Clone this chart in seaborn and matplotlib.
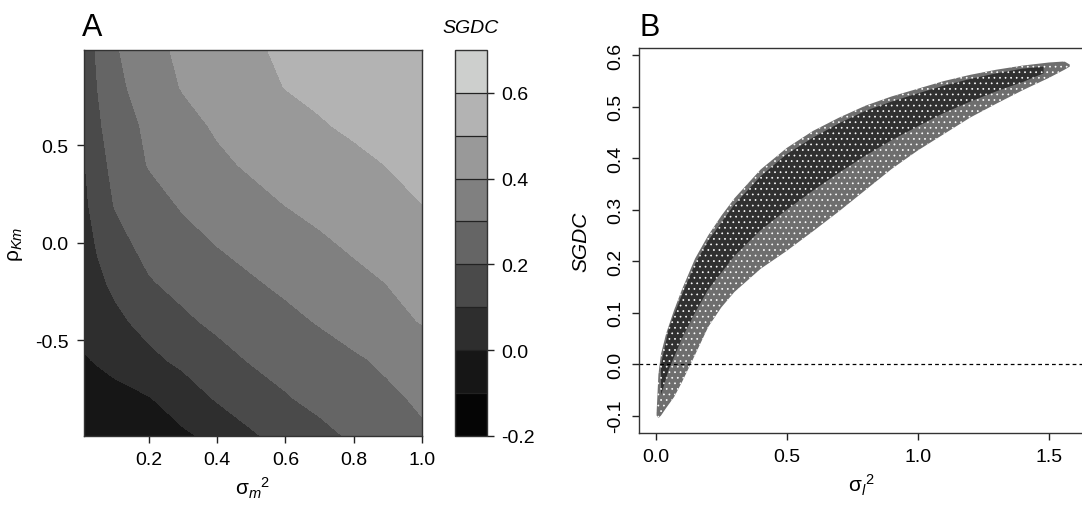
import numpy as np
import pandas as pd
import matplotlib
matplotlib.use("Agg")
import matplotlib.pyplot as plt
import seaborn as sns
from matplotlib.colors import ListedColormap, BoundaryNorm

# ---- panel A: SGDC (rows = rho_Km, cols = sigma_m^2)
sigma_m2 = [0.01, 0.05, 0.1, 0.2, 0.3, 0.4, 0.5, 0.6, 0.7, 0.8, 0.9, 1.0]
rho_km = [-0.99, -0.8, -0.6, -0.4, -0.2, 0.0, 0.2, 0.4, 0.6, 0.8, 0.99]
sgdc_grid = [
    [-0.08, -0.07, -0.06, -0.04, -0.015, 0.025, 0.088, 0.133, 0.174, 0.213, 0.25, 0.285],
    [-0.06, -0.049, -0.035, -0.006, 0.047, 0.108, 0.15, 0.192, 0.224, 0.253, 0.282, 0.314],
    [-0.009, 0.009, 0.032, 0.077, 0.122, 0.167, 0.207, 0.233, 0.26, 0.287, 0.317, 0.35],
    [0.035, 0.055, 0.079, 0.132, 0.184, 0.22, 0.249, 0.277, 0.307, 0.34, 0.373, 0.405],
    [0.052, 0.082, 0.119, 0.193, 0.228, 0.259, 0.291, 0.319, 0.347, 0.375, 0.403, 0.431],
    [0.061, 0.11, 0.17, 0.229, 0.267, 0.304, 0.332, 0.359, 0.386, 0.415, 0.445, 0.476],
    [0.081, 0.139, 0.205, 0.262, 0.311, 0.342, 0.372, 0.402, 0.427, 0.451, 0.476, 0.5],
    [0.093, 0.165, 0.226, 0.305, 0.344, 0.382, 0.412, 0.435, 0.457, 0.48, 0.502, 0.518],
    [0.108, 0.186, 0.243, 0.321, 0.37, 0.411, 0.438, 0.466, 0.493, 0.513, 0.53, 0.548],
    [0.12, 0.201, 0.272, 0.35, 0.406, 0.439, 0.471, 0.502, 0.518, 0.534, 0.551, 0.567],
    [0.14, 0.214, 0.289, 0.368, 0.42, 0.455, 0.489, 0.512, 0.53, 0.547, 0.565, 0.582],
]
sgdc_levels = [-0.2, -0.1, 0.0, 0.1, 0.2, 0.3, 0.4, 0.5, 0.6, 0.7]
band_colors = ["#050505", "#161616", "#2e2e2e", "#4a4a4a", "#656565",
               "#808080", "#999999", "#b3b3b3", "#cdcfcd"]

# ---- panel B: envelope of the point cloud (sigma_l^2 vs SGDC)
sig_l2 = [0.003, 0.01, 0.02, 0.04, 0.07, 0.1, 0.15, 0.2, 0.25, 0.3, 0.4, 0.5,
          0.6, 0.7, 0.8, 0.9, 1.0, 1.1, 1.2, 1.3, 1.4, 1.5, 1.56, 1.58]
cloud_top = [-0.095, -0.02, 0.02, 0.06, 0.105, 0.145, 0.205, 0.25, 0.288, 0.322, 0.378, 0.42,
             0.453, 0.479, 0.502, 0.52, 0.535, 0.55, 0.562, 0.572, 0.58, 0.586, 0.588, 0.582]
cloud_bottom = [-0.1, -0.105, -0.1, -0.085, -0.064, -0.035, 0.018, 0.072, 0.11, 0.14, 0.185, 0.22,
                0.258, 0.297, 0.338, 0.379, 0.415, 0.447, 0.479, 0.506, 0.532, 0.556, 0.572, 0.578]
# denser core of the cloud
core_x = [0.02, 0.05, 0.1, 0.15, 0.2, 0.3, 0.4, 0.5, 0.6, 0.7, 0.8, 0.9, 1.0, 1.1, 1.2, 1.3, 1.4, 1.48]
core_top = [0.0, 0.07, 0.135, 0.195, 0.24, 0.31, 0.365, 0.408, 0.44, 0.468, 0.492, 0.51, 0.526,
            0.541, 0.554, 0.565, 0.574, 0.578]
core_bottom = [-0.06, -0.01, 0.05, 0.1, 0.145, 0.21, 0.26, 0.3, 0.337, 0.372, 0.405, 0.435, 0.462,
               0.488, 0.51, 0.53, 0.548, 0.565]

sns.set_theme(style="ticks")
plt.rcParams["font.family"] = ["Liberation Sans", "DejaVu Sans"]
plt.rcParams["mathtext.fontset"] = "custom"
plt.rcParams["mathtext.rm"] = "Liberation Sans"
plt.rcParams["mathtext.it"] = "Liberation Sans:italic"
plt.rcParams["axes.unicode_minus"] = False
plt.rcParams["text.color"] = "black"
plt.rcParams["axes.labelcolor"] = "black"
plt.rcParams["xtick.color"] = "#222222"
plt.rcParams["ytick.color"] = "#222222"
plt.rcParams["xtick.labelcolor"] = "black"
plt.rcParams["ytick.labelcolor"] = "black"
plt.rcParams["hatch.color"] = "white"
plt.rcParams["hatch.linewidth"] = 0.5
plt.rcParams["axes.edgecolor"] = "#333333"
plt.rcParams["axes.linewidth"] = 1.0

FS = 14
fig = plt.figure(figsize=(10.82, 5.06), dpi=100)

# ---------------- panel A
axA = fig.add_axes([0.0776, 0.1364, 0.3124, 0.763])
df = pd.DataFrame(sgdc_grid, index=rho_km, columns=sigma_m2)
cmap = ListedColormap(band_colors)
norm = BoundaryNorm(sgdc_levels, cmap.N)
cs = axA.contourf(df.columns.values, df.index.values, df.values,
                  levels=sgdc_levels, cmap=cmap, norm=norm)
axA.set_xlim(0.01, 1.0)
axA.set_ylim(-0.99, 0.99)
axA.set_xticks([0.2, 0.4, 0.6, 0.8, 1.0])
axA.set_yticks([-0.5, 0.0, 0.5])
axA.tick_params(direction="out", length=5, width=1, labelsize=FS, pad=6)
axA.set_xlabel("σ$_{m}$$^{2}$", fontsize=FS + 1, labelpad=5)
axA.set_ylabel("ρ$_{Km}$", fontsize=FS + 1, labelpad=7)

cax = fig.add_axes([0.4205, 0.1364, 0.0296, 0.763])
cb = fig.colorbar(cs, cax=cax, drawedges=True, ticks=[-0.2, 0.0, 0.2, 0.4, 0.6])
cax.minorticks_off()
cb.outline.set_edgecolor("#333333")
cb.dividers.set_color("#222222")
cb.dividers.set_linewidth(0.9)
cax.tick_params(direction="out", length=5, width=1, labelsize=FS, pad=5)
cax.set_title("SGDC", fontsize=FS, style="italic", pad=13)

fig.text(0.076, 0.929, "A", fontsize=22, ha="left", va="baseline")

# ---------------- panel B
axB = fig.add_axes([0.5906, 0.1423, 0.4114, 0.7607])
axB.fill_between(sig_l2, cloud_bottom, cloud_top, facecolor="#6e6e6e",
                 edgecolor="white", linewidth=0, hatch="...")
axB.fill_between(core_x, core_bottom, core_top, facecolor="#303030",
                 edgecolor="white", linewidth=0, hatch="...")
axB.axhline(0.0, color="black", linestyle=(0, (3, 2.5)), linewidth=0.9)
axB.set_xlim(-0.064, 1.635)
axB.set_ylim(-0.134, 0.614)
axB.set_xticks([0.0, 0.5, 1.0, 1.5])
axB.set_yticks([-0.1, 0.0, 0.1, 0.2, 0.3, 0.4, 0.5, 0.6])
axB.tick_params(direction="out", length=5, width=1, labelsize=FS, pad=6)
axB.tick_params(axis="y", labelrotation=90, pad=6)
for lab in axB.get_yticklabels():
    lab.set_va("center")
axB.set_xlabel("σ$_{l}$$^{2}$", fontsize=FS + 1, labelpad=5)
axB.set_ylabel("SGDC", fontsize=FS + 1, style="italic", labelpad=12)

fig.text(0.591, 0.929, "B", fontsize=22, ha="left", va="baseline")

fig.savefig("out.png", dpi=100)
